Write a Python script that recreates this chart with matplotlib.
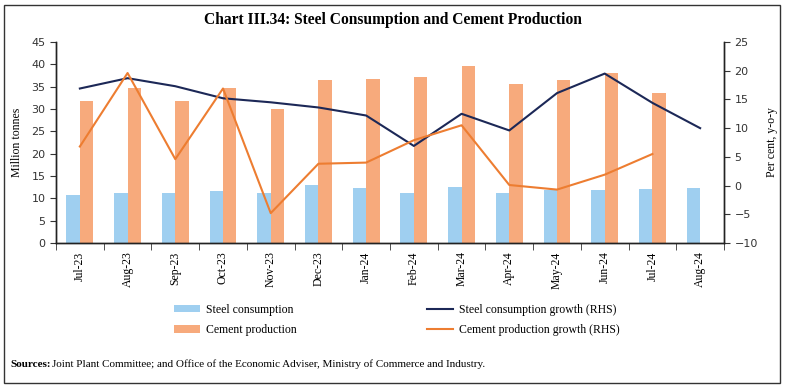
import matplotlib
matplotlib.use("Agg")
import matplotlib.pyplot as plt
import numpy as np
from matplotlib.patches import Rectangle

months = ["Jul-23", "Aug-23", "Sep-23", "Oct-23", "Nov-23", "Dec-23", "Jan-24",
          "Feb-24", "Mar-24", "Apr-24", "May-24", "Jun-24", "Jul-24", "Aug-24"]
steel = [10.7, 11.3, 11.1, 11.7, 11.2, 12.9, 12.4, 11.2, 12.5, 11.1, 11.9, 11.9, 12.1, 12.4]
cement = [31.7, 34.7, 31.7, 34.6, 29.9, 36.6, 36.7, 37.2, 39.7, 35.6, 36.5, 38.1, 33.5, None]
steel_growth = [16.9, 18.7, 17.3, 15.2, 14.5, 13.6, 12.2, 6.9, 12.5, 9.6, 16.1, 19.5, 14.4, 10.0]
cement_growth = [6.8, 19.6, 4.6, 16.9, -4.8, 3.8, 4.0, 7.9, 10.5, 0.1, -0.7, 1.9, 5.5, None]

c_steel = "#9FCFF0"
c_cement = "#F7AA7C"
c_sg = "#1C2857"
c_cg = "#ED7D31"

serif = ["Liberation Serif", "DejaVu Serif"]

fig = plt.figure(figsize=(7.85, 3.86), dpi=100)
W, H = 785, 386
ax = fig.add_axes([56 / W, 1 - 243 / H, (724 - 56) / W, (243 - 42) / H])
ax2 = ax.twinx()

x = np.arange(len(months))
w = 0.28
ax.bar(x - w / 2, steel, width=w, color=c_steel, label="Steel consumption", zorder=2)
cem_vals = [np.nan if v is None else v for v in cement]
ax.bar(x + w / 2, cem_vals, width=w, color=c_cement, label="Cement production", zorder=2)

sg = np.array(steel_growth, dtype=float)
cg = np.array([np.nan if v is None else v for v in cement_growth], dtype=float)
ax2.plot(x, sg, color=c_sg, lw=1.5, label="Steel consumption growth (RHS)")
ax2.plot(x, cg, color=c_cg, lw=1.5, label="Cement production growth (RHS)")

ax.set_xlim(-0.5, len(months) - 0.5)
ax.set_ylim(0, 45)
ax.set_yticks(range(0, 46, 5))
ax2.set_ylim(-10, 25)
ax2.set_yticks(range(-10, 26, 5))

ax.set_xticks(x)
ax.set_xticklabels(months, rotation=90, fontsize=8.5, family=serif)
ax.set_xticks(np.arange(-0.5, len(months), 1), minor=True)
ax.tick_params(axis="x", which="major", length=0, pad=6)
ax.tick_params(axis="x", which="minor", length=5, direction="out", color="#333333")
ax.tick_params(axis="y", labelsize=8, length=4, color="#333333", labelcolor="#333333")
ax2.tick_params(axis="y", labelsize=8, length=4, color="#333333", labelcolor="#333333")

for a in (ax, ax2):
    a.spines["top"].set_visible(False)
    for s in ("left", "right", "bottom"):
        a.spines[s].set_color("#222222")
        a.spines[s].set_linewidth(1.0)

ax.set_ylabel("Million tonnes", fontsize=8.5, family=serif, labelpad=6)
ax2.set_ylabel("Per cent, y-o-y", fontsize=8.5, family=serif, labelpad=6, rotation=90)

fig.text(0.5, 1 - 20 / H, "Chart III.34: Steel Consumption and Cement Production",
         ha="center", va="center", fontsize=11.2, fontweight="bold", family=serif)

h1, l1 = ax.get_legend_handles_labels()
h2, l2 = ax2.get_legend_handles_labels()
common = dict(frameon=False, prop={"family": serif, "size": 8.5}, borderpad=0,
              borderaxespad=0, handlelength=2.2, handleheight=0.6, handletextpad=0.5,
              labelspacing=0.7, loc="center left")
fig.legend(h1, l1, bbox_to_anchor=(174 / W, 1 - 320 / H), **common)
fig.legend(h2, l2, bbox_to_anchor=(427 / W, 1 - 320 / H), **common)

t1 = fig.text(10 / W, 1 - 367 / H, "Sources:", ha="left", va="baseline", fontsize=8,
              fontweight="bold", family=serif)
fig.canvas.draw()
bb = t1.get_window_extent(fig.canvas.get_renderer())
fig.text(bb.x1 / W + 2 / W, 1 - 367 / H,
         "Joint Plant Committee; and Office of the Economic Adviser, Ministry of Commerce and Industry.",
         ha="left", va="baseline", fontsize=8, family=serif)

fig.patches.append(Rectangle((4 / W, 3 / H), (W - 9) / W, (H - 8) / H, transform=fig.transFigure,
                             fill=False, edgecolor="#333333", lw=1.0))

fig.savefig("out.png", dpi=100)
